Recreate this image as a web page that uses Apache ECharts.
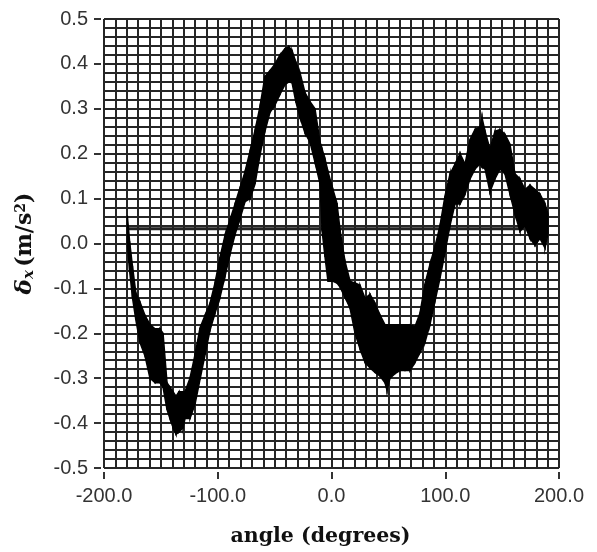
<!DOCTYPE html>
<html>
<head>
<meta charset="utf-8">
<script src="https://cdn.jsdelivr.net/npm/echarts@6/dist/echarts.min.js"></script>
<style>
html,body{margin:0;padding:0;background:#fff;}
#chart{width:597px;height:552px;}
</style>
</head>
<body>
<div id="chart"></div>
<script>
// angle samples (degrees) with lower / upper envelope of the noisy trace (m/s^2)
const angle = [-179.5,-177.5,-175,-172,-168.4,-164,-159.6,-155.2,-150.8,-148.1,-144.6,-142,-139.3,-136.7,-134.1,-130.5,-128.8,-124.4,-120,-115.6,-111.2,-106.8,-102.4,-98,-93.6,-89.2,-84.8,-80.4,-76,-71.6,-67.2,-62.9,-58.5,-54.1,-49.7,-45.3,-40.9,-37.4,-34.7,-31.2,-27.7,-23.3,-18.9,-14.5,-10.1,-8.2,-5.7,-3.1,1.3,4.8,7.5,11.9,16.3,20.7,25.1,29.5,33.8,38.2,42.6,47,48.8,51.4,55.8,60.2,64.6,69,73.4,77.8,82.2,86.6,91,95.4,99.8,104.2,108.6,113,117.4,121.8,126.2,130.5,132.3,135,139.3,143.7,148.1,152.5,156.9,161.3,165.7,170.1,174.5,178.9,183.3,187.7,190.3];
const lower = [0.0,-0.06,-0.12,-0.17,-0.22,-0.25,-0.30,-0.31,-0.31,-0.32,-0.37,-0.39,-0.41,-0.425,-0.42,-0.41,-0.39,-0.39,-0.358,-0.303,-0.248,-0.193,-0.155,-0.12,-0.073,-0.024,0.02,0.055,0.093,0.10,0.133,0.197,0.25,0.292,0.308,0.332,0.354,0.36,0.358,0.314,0.281,0.246,0.226,0.181,0.133,0.027,-0.03,-0.084,-0.084,-0.088,-0.097,-0.12,-0.144,-0.20,-0.235,-0.265,-0.277,-0.287,-0.295,-0.31,-0.327,-0.30,-0.29,-0.283,-0.283,-0.283,-0.265,-0.243,-0.22,-0.18,-0.128,-0.077,-0.02,0.04,0.088,0.088,0.11,0.144,0.166,0.177,0.17,0.166,0.115,0.144,0.166,0.155,0.11,0.066,0.027,0.04,0.011,-0.004,0.011,-0.01,0.022];
const upper = [0.062,0.005,-0.05,-0.11,-0.13,-0.16,-0.18,-0.19,-0.19,-0.20,-0.31,-0.32,-0.33,-0.34,-0.33,-0.33,-0.33,-0.30,-0.248,-0.188,-0.16,-0.133,-0.088,-0.03,0.018,0.053,0.088,0.124,0.16,0.206,0.252,0.305,0.372,0.385,0.40,0.42,0.434,0.438,0.43,0.403,0.38,0.336,0.316,0.30,0.226,0.21,0.188,0.16,0.12,0.09,0.03,-0.04,-0.084,-0.088,-0.093,-0.122,-0.113,-0.133,-0.159,-0.181,-0.181,-0.181,-0.181,-0.181,-0.181,-0.181,-0.185,-0.155,-0.09,-0.046,-0.007,0.04,0.106,0.155,0.177,0.20,0.177,0.232,0.254,0.26,0.28,0.25,0.21,0.25,0.254,0.243,0.221,0.155,0.144,0.12,0.13,0.12,0.11,0.088,0.066];
// horizontal reference line
const refX = [-179, 190];
const refY = [0.033, 0.033];

const chart = echarts.init(document.getElementById('chart'), null, {renderer:'canvas'});
const gridLine = {color:'#262626', width:2};
const labelFont = {color:'#333', fontSize:20, fontFamily:'"Liberation Sans Narrow","Liberation Sans",Arial,sans-serif'};
const serif = '"DejaVu Serif","Liberation Serif",serif';
const whiteLine = {show:true, onZero:false, lineStyle:{color:'#ffffff', width:1}};

function renderBand(params, api) {
  const i = params.dataIndex;
  if (i >= angle.length - 1) return null;
  const pts = [
    api.coord([angle[i], lower[i]]),
    api.coord([angle[i], upper[i]]),
    api.coord([angle[i+1], upper[i+1]]),
    api.coord([angle[i+1], lower[i+1]])
  ];
  return {type:'polygon', shape:{points:pts}, style:{fill:'#000', stroke:'#000', lineWidth:1.5}};
}

chart.setOption({
  animation:false,
  backgroundColor:'#fff',
  grid:{left:104, right:38, top:19, bottom:81, show:true, borderColor:'#777', borderWidth:1, backgroundColor:'#fff'},
  xAxis:{
    type:'value', min:-200, max:200, interval:100, offset:4,
    axisLine:whiteLine,
    axisTick:{show:true, inside:false, length:7, lineStyle:{color:'#333', width:2}},
    axisLabel:Object.assign({margin:14, formatter:v=>v.toFixed(1)}, labelFont),
    splitLine:{show:true, lineStyle:gridLine},
    minorTick:{show:false, splitNumber:10},
    minorSplitLine:{show:true, lineStyle:gridLine},
    name:'angle (degrees)', nameLocation:'middle', nameGap:54,
    nameTextStyle:{fontFamily:serif, fontWeight:'bold', fontSize:20.5, color:'#111', padding:[0,22,0,0]}
  },
  yAxis:{
    type:'value', min:-0.5, max:0.5, interval:0.1, offset:3,
    axisLine:whiteLine,
    axisTick:{show:true, inside:false, length:7, lineStyle:{color:'#333', width:2}},
    axisLabel:Object.assign({margin:13, formatter:v=>v.toFixed(1)}, labelFont),
    splitLine:{show:true, lineStyle:gridLine},
    minorTick:{show:false, splitNumber:5},
    minorSplitLine:{show:true, lineStyle:gridLine},
    name:'{d|δ}{sub|x} {p|(m/s}{sup|2}{p|)}', nameLocation:'middle', nameGap:64, nameRotate:90,
    nameTextStyle:{
      color:'#111',
      rich:{
        d:{fontFamily:serif, fontStyle:'italic', fontWeight:'bold', fontSize:23, color:'#111'},
        sub:{fontFamily:serif, fontStyle:'italic', fontWeight:'bold', fontSize:15, color:'#111', verticalAlign:'bottom'},
        p:{fontFamily:serif, fontWeight:'bold', fontSize:22, color:'#111'},
        sup:{fontFamily:serif, fontWeight:'bold', fontSize:14, color:'#111', verticalAlign:'top'}
      }
    }
  },
  series:[
    {type:'line', data:refX.map((x,i)=>[x, refY[i]]), symbol:'none', lineStyle:{color:'#222', width:3}, z:2},
    {type:'custom', renderItem:renderBand, data:angle.map((a,i)=>[a, lower[i], upper[i]]),
     encode:{x:0, y:[1,2]}, clip:true, z:3}
  ]
});
</script>
</body>
</html>
